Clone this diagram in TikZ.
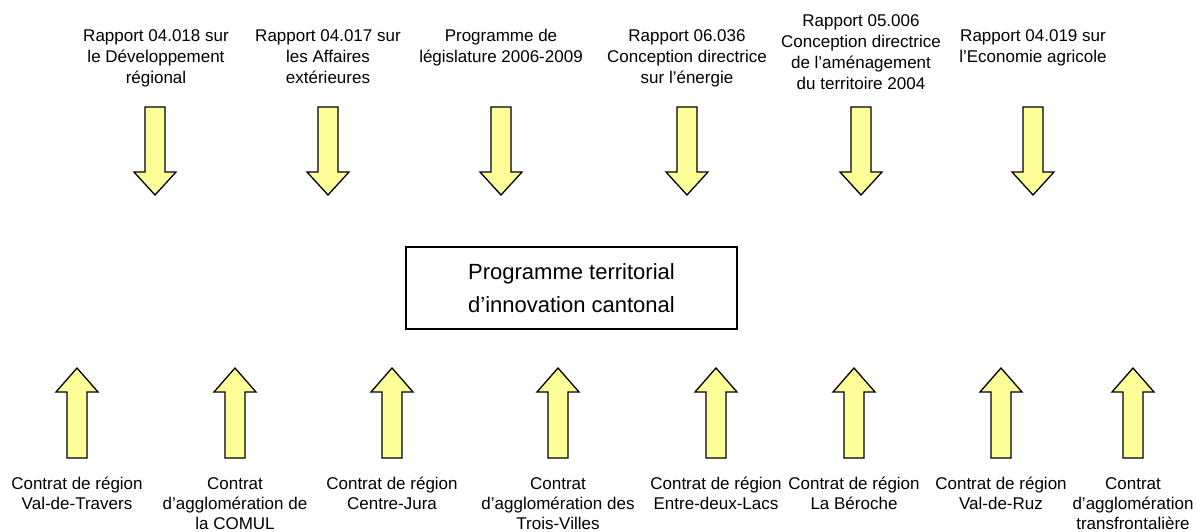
\documentclass[tikz,border=0pt]{standalone}
\usepackage{fontspec}
\setmainfont{Liberation Sans}
\definecolor{arrowyellow}{HTML}{FFFF99}
\tikzset{
  blockarrow/.style={draw=black, line width=1.3pt, fill=arrowyellow, line join=miter},
  toplabel/.style={anchor=north, align=center, inner sep=0pt, font=\fontsize{17}{21}\selectfont},
  botlabel/.style={anchor=north, align=center, inner sep=0pt, font=\fontsize{17}{20}\selectfont},
  mainbox/.style={draw=black, line width=1.3pt, minimum width=331pt, minimum height=82pt,
                  align=center, font=\fontsize{22}{33}\selectfont}
}
\begin{document}
\begin{tikzpicture}[x=1pt, y=-1pt]
  \useasboundingbox (0,0) rectangle (1197,532);

  \node[toplabel] (r1) at (156,29) {Rapport 04.018 sur\\le Développement\\régional};
  \node[toplabel] (r2) at (328,29) {Rapport 04.017 sur\\les Affaires\\extérieures};
  \node[toplabel] (r3) at (501,29) {Programme de\\législature 2006-2009};
  \node[toplabel] (r4) at (687,29) {Rapport 06.036\\Conception directrice\\sur l’énergie};
  \node[toplabel] (r5) at (861,14) {Rapport 05.006\\Conception directrice\\de l’aménagement\\du territoire 2004};
  \node[toplabel] (r6) at (1033,29) {Rapport 04.019 sur\\l’Economie agricole};

  \foreach \x in {155,328,501,687,861,1033}
    \draw[blockarrow] (\x-10,107) -- ++(20,0) -- ++(0,65) -- ++(11,0) -- (\x,195)
                      -- (\x-21,172) -- ++(11,0) -- cycle;

  \node[mainbox] (pti) at (571.5,288) {Programme territorial\\d’innovation cantonal};

  \foreach \x in {77,235,392,558,716,854,1001,1133}
    \draw[blockarrow] (\x-10,458) -- ++(20,0) -- ++(0,-66) -- ++(11,0) -- (\x,368)
                      -- (\x-21,392) -- ++(11,0) -- cycle;

  \node[botlabel] (c1) at (77,477) {Contrat de région\\Val-de-Travers};
  \node[botlabel] (c2) at (235,477) {Contrat\\d’agglomération de\\la COMUL};
  \node[botlabel] (c3) at (392,477) {Contrat de région\\Centre-Jura};
  \node[botlabel] (c4) at (558,477) {Contrat\\d’agglomération des\\Trois-Villes};
  \node[botlabel] (c5) at (716,477) {Contrat de région\\Entre-deux-Lacs};
  \node[botlabel] (c6) at (854,477) {Contrat de région\\La Béroche};
  \node[botlabel] (c7) at (1001,477) {Contrat de région\\Val-de-Ruz};
  \node[botlabel] (c8) at (1133,477) {Contrat\\d’agglomération\\transfrontalière};
\end{tikzpicture}
\end{document}
